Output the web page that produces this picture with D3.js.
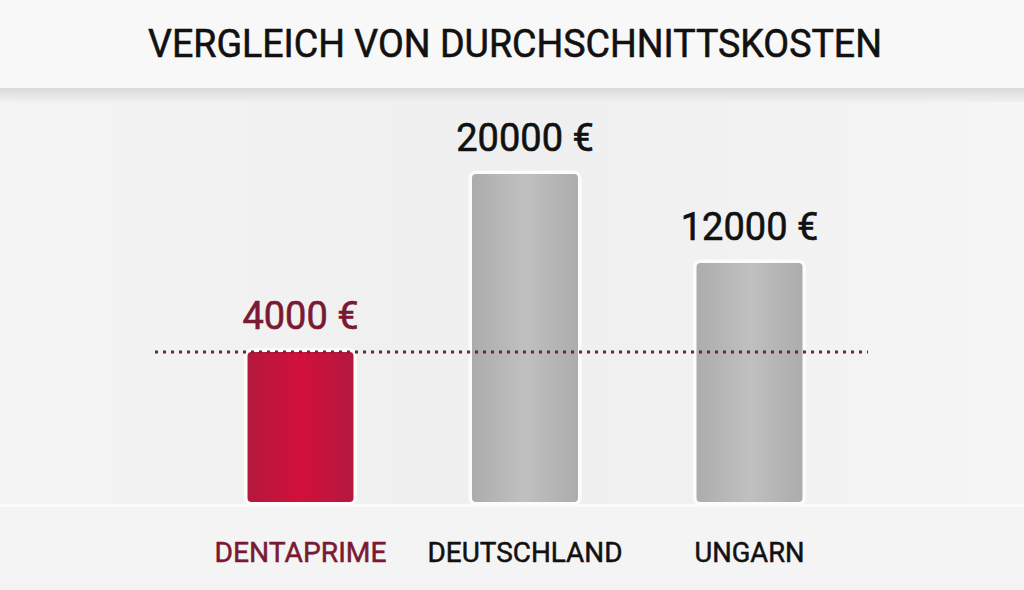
<!DOCTYPE html>
<html>
<head>
<meta charset="utf-8">
<script src="https://cdn.jsdelivr.net/npm/d3@7"></script>
<style>
  body { margin: 0; background: #f1f1f1; }
  svg { display: block; }
  text { font-family: Roboto, "DejaVu Sans", sans-serif; }
</style>
</head>
<body>
<div class="chart"></div>
<script>
var categories = ["DENTAPRIME", "DEUTSCHLAND", "UNGARN"];
var values = [4000, 20000, 12000];
var titleText = "VERGLEICH VON DURCHSCHNITTSKOSTEN";
var labelWidths = [172, 195, 110];

var svgWidth = 1024;
var svgHeight = 590;
var baseY = 502;

var svg = d3.select(".chart")
    .append("svg")
    .attr("width", svgWidth)
    .attr("height", svgHeight);

var defs = svg.append("defs");

// background
var bg = defs.append("linearGradient").attr("id", "bg")
    .attr("x1", 0).attr("x2", 1).attr("y1", 0).attr("y2", 0);
bg.append("stop").attr("offset", "0%").attr("stop-color", "#f4f4f4");
bg.append("stop").attr("offset", "50%").attr("stop-color", "#efefef");
bg.append("stop").attr("offset", "100%").attr("stop-color", "#f5f5f5");

var shadow = defs.append("linearGradient").attr("id", "shadow")
    .attr("x1", 0).attr("x2", 0).attr("y1", 0).attr("y2", 1);
shadow.append("stop").attr("offset", "0%").attr("stop-color", "#dadada");
shadow.append("stop").attr("offset", "100%").attr("stop-color", "#f0f0f0");

function barGrad(id, edge, mid) {
    var g = defs.append("linearGradient").attr("id", id)
        .attr("x1", 0).attr("x2", 1).attr("y1", 0).attr("y2", 0);
    g.append("stop").attr("offset", "0%").attr("stop-color", edge);
    g.append("stop").attr("offset", "50%").attr("stop-color", mid);
    g.append("stop").attr("offset", "100%").attr("stop-color", edge);
}
barGrad("redBar", "#b5183e", "#d1103b");
barGrad("grayBar", "#acacac", "#c0c0c0");

svg.append("rect")
    .attr("width", svgWidth)
    .attr("height", svgHeight)
    .attr("fill", "url(#bg)");

// title band
svg.append("rect")
    .attr("width", svgWidth)
    .attr("height", 88)
    .attr("fill", "#f8f8f8");
svg.append("rect")
    .attr("y", 88)
    .attr("width", svgWidth)
    .attr("height", 14)
    .attr("fill", "url(#shadow)");

svg.append("text")
    .attr("x", 148)
    .attr("y", 57)
    .attr("textLength", 734)
    .attr("lengthAdjust", "spacingAndGlyphs")
    .attr("font-size", 39)
    .attr("fill", "#111")
    .attr("stroke", "#111")
    .attr("stroke-width", 0.6)
    .text(titleText);

// lower floor
svg.append("rect")
    .attr("y", baseY + 5)
    .attr("width", svgWidth)
    .attr("height", svgHeight - baseY - 5)
    .attr("fill", "#f4f4f4");
svg.append("rect")
    .attr("y", baseY + 2)
    .attr("width", svgWidth)
    .attr("height", 3)
    .attr("fill", "#fbfbfb");

var x = d3.scalePoint()
    .domain(categories)
    .range([300.5, 749.5]);
var barWidth = x.step() * 0.472;

var y = d3.scaleLinear()
    .domain([-9500, 20000])
    .range([baseY, 174]);

var data = categories.map(function(c, i) {
    return { name: c, value: values[i], w: labelWidths[i] };
});

svg.selectAll(".bar")
    .data(data)
    .enter()
    .append("rect")
    .attr("class", "bar")
    .attr("x", d => x(d.name) - barWidth / 2)
    .attr("y", d => y(d.value))
    .attr("width", barWidth)
    .attr("height", d => baseY - y(d.value))
    .attr("rx", 4)
    .attr("fill", (d, i) => i === 0 ? "url(#redBar)" : "url(#grayBar)")
    .attr("stroke", "#fcfcfc")
    .attr("stroke-width", 7)
    .attr("paint-order", "stroke");

// reference line at dentaprime level
svg.append("line")
    .attr("x1", 155)
    .attr("x2", 868)
    .attr("y1", y(values[0]))
    .attr("y2", y(values[0]))
    .attr("stroke", "#6e2434")
    .attr("stroke-width", 3)
    .attr("stroke-dasharray", "3,5");

svg.selectAll(".value")
    .data(data)
    .enter()
    .append("text")
    .attr("class", "value")
    .attr("x", d => x(d.name))
    .attr("y", d => y(d.value) - 23)
    .attr("text-anchor", "middle")
    .attr("font-size", 38)
    .attr("fill", (d, i) => i === 0 ? "#7a1a32" : "#111")
    .attr("stroke", (d, i) => i === 0 ? "#7a1a32" : "#111")
    .attr("stroke-width", 0.6)
    .text(d => d.value + " €");

svg.selectAll(".cat")
    .data(data)
    .enter()
    .append("text")
    .attr("class", "cat")
    .attr("x", d => x(d.name) - d.w / 2)
    .attr("y", 562)
    .attr("textLength", d => d.w)
    .attr("lengthAdjust", "spacingAndGlyphs")
    .attr("font-size", 28)
    .attr("fill", (d, i) => i === 0 ? "#7a1a32" : "#111")
    .attr("stroke", (d, i) => i === 0 ? "#7a1a32" : "#111")
    .attr("stroke-width", 0.5)
    .text(d => d.name);
</script>
</body>
</html>
